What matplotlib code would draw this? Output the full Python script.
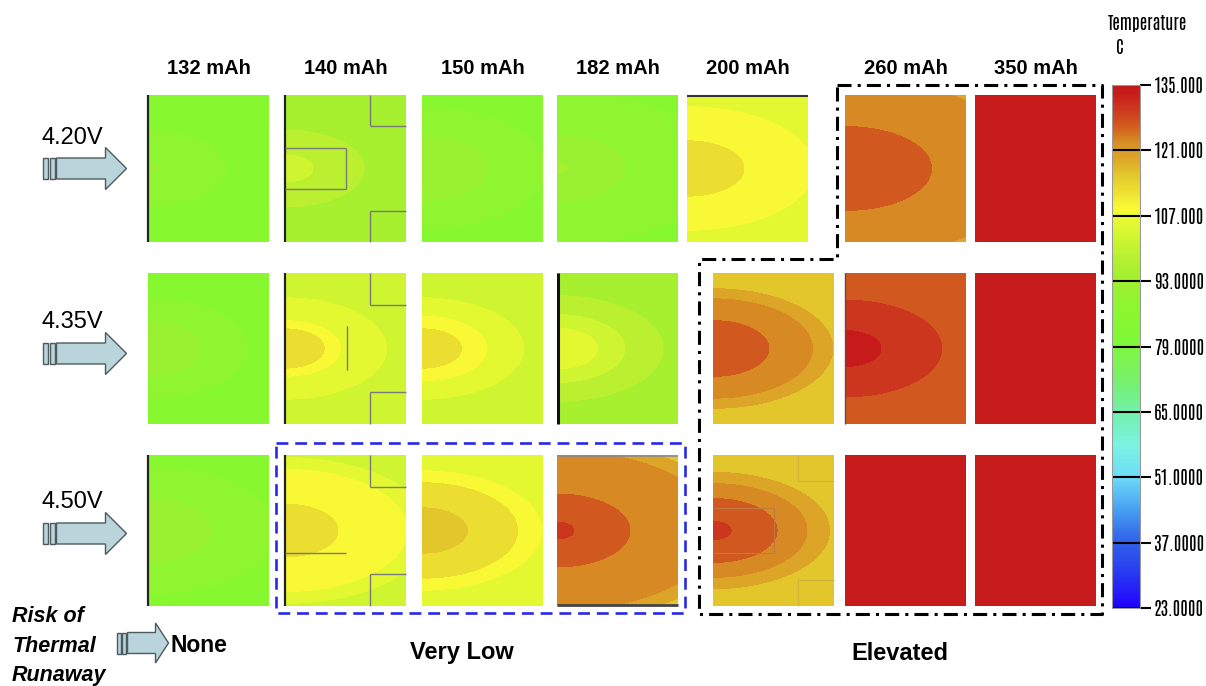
import numpy as np
import matplotlib
matplotlib.use("Agg")
import matplotlib.pyplot as plt
from matplotlib.colors import LinearSegmentedColormap, Normalize
from matplotlib.cm import ScalarMappable
from matplotlib.patches import FancyArrow, Rectangle
from matplotlib.lines import Line2D

# ---------------------------------------------------------------- data
capacities = ["132 mAh", "140 mAh", "150 mAh", "182 mAh", "200 mAh", "260 mAh", "350 mAh"]
voltages = ["4.20V", "4.35V", "4.50V"]
risk_levels = ["None", "Very Low", "Elevated"]

# normalised distance from the hot spot (middle of the tab side) at which
# each cell's temperature profile is sampled
profile_radius = [0.0, 0.25, 0.5, 0.75, 1.0, 1.3, 1.6]

# temperature profiles (deg C) per capacity, one list of cells per voltage
temps_420 = [
    [90.2, 88.0, 86.5, 85.6, 85.0, 84.5, 84.0],
    [102.5, 99.8, 97.3, 96.0, 95.0, 94.3, 93.6],
    [91.6, 90.8, 89.8, 88.0, 86.1, 85.0, 84.4],
    [93.8, 91.5, 89.8, 88.5, 87.3, 86.0, 85.2],
    [113.6, 112.0, 110.3, 108.8, 107.1, 106.5, 106.0],
    [127.6, 126.8, 125.7, 124.3, 123.2, 121.9, 120.7],
    [134.0, 134.0, 134.0, 134.0, 134.0, 134.0, 134.0],
]
temps_435 = [
    [91.5, 90.4, 89.2, 86.2, 85.5, 84.6, 84.0],
    [113.3, 112.4, 106.0, 104.0, 102.6, 101.6, 100.8],
    [112.0, 111.8, 107.5, 104.0, 102.6, 101.6, 100.8],
    [105.8, 104.9, 100.8, 97.5, 95.5, 94.8, 94.2],
    [126.5, 125.6, 124.3, 122.5, 117.3, 116.0, 115.2],
    [133.0, 131.8, 130.2, 128.3, 126.8, 125.8, 125.0],
    [134.0, 134.0, 134.0, 134.0, 134.0, 134.0, 134.0],
]
temps_450 = [
    [91.5, 90.6, 89.6, 88.0, 86.1, 85.5, 84.8],
    [113.5, 112.0, 110.0, 108.8, 107.2, 101.8, 101.5],
    [116.0, 115.0, 113.0, 111.2, 106.8, 105.8, 105.0],
    [129.5, 126.8, 125.2, 123.5, 122.3, 121.5, 115.5],
    [128.6, 127.6, 124.9, 121.5, 116.8, 115.8, 115.0],
    [134.0, 134.0, 134.0, 134.0, 134.0, 134.0, 134.0],
    [134.0, 134.0, 134.0, 134.0, 134.0, 134.0, 134.0],
]
temps_by_voltage = [temps_420, temps_435, temps_450]

temp_min, temp_max = 23.0, 135.0
band_step = 3.5
cbar_ticks = [23, 37, 51, 65, 79, 93, 107, 121, 135]

# temperature colour scale
cmap_temps = [23.0, 30.0, 37.0, 44.0, 51.0, 58.0, 65.0, 72.0, 80.75, 84.25,
              87.75, 91.25, 94.75, 98.25, 101.75, 105.25, 108.75, 112.25,
              115.75, 119.25, 122.75, 126.25, 129.75, 133.25, 135.0]
cmap_colors = ["#2000ff", "#2838f2", "#3060ea", "#48a0f0", "#6cdcfa", "#7cf2e0",
               "#72f0a8", "#78f06a", "#80f835", "#86f830", "#8ef530", "#98f030",
               "#a6f030", "#b8f030", "#ccf530", "#e2f832", "#fafa35", "#ece032",
               "#e4c82c", "#dca828", "#d88f25", "#d25c1f", "#cc3a1e", "#c81c1b",
               "#c4181b"]

# ---------------------------------------------------------------- setup
W, H = 1206, 686
fig = plt.figure(figsize=(W / 100, H / 100), dpi=100)
fig.patch.set_facecolor("white")

stops = [(t - temp_min) / (temp_max - temp_min) for t in cmap_temps]
cmap = LinearSegmentedColormap.from_list("temp", list(zip(stops, cmap_colors)))
cmap.set_over(cmap_colors[-1])
cmap.set_under(cmap_colors[0])
norm = Normalize(temp_min, temp_max)
levels = np.arange(temp_min, temp_max + band_step / 2, band_step)

narrow = ["Antonio", "DejaVu Sans"]
sans = ["Liberation Sans", "DejaVu Sans"]


def px_axes(x0, y0, x1, y1, **kw):
    return fig.add_axes([x0 / W, 1 - y1 / H, (x1 - x0) / W, (y1 - y0) / H], **kw)


# cell placement (pixel boxes)
col_left = [148, 285, 422, 557, 713, 845, 975]
cell_w = 121
row_span = [(95, 242), (273, 424), (455, 606)]

u = np.linspace(0, 1, 320)
v = np.linspace(-0.5, 0.5, 320)
U, V = np.meshgrid(u, v)
R = np.hypot(U, 2.5 * V)


def seg(ax, x0, y0, x1, y1, color="#7a7a7a", lw=1.0):
    ax.plot([x0, x1], [0.5 - y0, 0.5 - y1], color=color, lw=lw,
            solid_capstyle="butt", clip_on=False, zorder=3)


cell_axes = {}
for r, temps_row in enumerate(temps_by_voltage):
    y0, y1 = row_span[r]
    for c, prof in enumerate(temps_row):
        x0 = col_left[c]
        if r == 0 and c == 4:
            x0 = 687
        ax = px_axes(x0, y0, x0 + cell_w, y1)
        T = np.interp(R, profile_radius, prof)
        ax.contourf(U, V, T, levels=levels, cmap=cmap, norm=norm, extend="both")
        ax.set_xlim(0, 1)
        ax.set_ylim(-0.5, 0.5)
        ax.axis("off")
        cell_axes[(r, c)] = ax

# cell outlines: current-collector edge and tab regions
for key in [(0, 0), (0, 1), (1, 1), (2, 0), (2, 1)]:
    seg(cell_axes[key], 0.004, 0, 0.004, 1, color="#222222", lw=1.6)
seg(cell_axes[(1, 3)], 0.006, 0, 0.006, 1, color="#111111", lw=2.2)
seg(cell_axes[(1, 5)], 0.004, 0, 0.004, 1, color="#6a4a3a", lw=1.0)
seg(cell_axes[(0, 4)], 0, 0.004, 1, 0.004, color="#333333", lw=1.5)
seg(cell_axes[(2, 3)], 0, 0.004, 1, 0.004, color="#8a8a8a", lw=1.2)
seg(cell_axes[(2, 3)], 0, 0.994, 1, 0.994, color="#444444", lw=2.0)
for r in range(3):
    ax = cell_axes[(r, 1)]
    seg(ax, 0.70, 0, 0.70, 0.21)
    seg(ax, 0.70, 0.21, 1, 0.21)
    seg(ax, 0.70, 0.79, 0.70, 1)
    seg(ax, 0.70, 0.79, 1, 0.79)
ax = cell_axes[(0, 1)]
seg(ax, 0, 0.36, 0.5, 0.36)
seg(ax, 0.5, 0.36, 0.5, 0.64)
seg(ax, 0, 0.64, 0.5, 0.64)
seg(cell_axes[(1, 1)], 0.51, 0.35, 0.51, 0.64)
seg(cell_axes[(2, 1)], 0, 0.65, 0.5, 0.65)
ax = cell_axes[(2, 4)]
for a, b, cc, d in [(0.7, 0, 0.7, 0.17), (0.7, 0.17, 1, 0.17),
                    (0.7, 0.83, 0.7, 1), (0.7, 0.83, 1, 0.83)]:
    seg(ax, a, b, cc, d, color="#cdb43c", lw=0.8)
for a, b, cc, d in [(0, 0.35, 0.5, 0.35), (0.5, 0.35, 0.5, 0.65), (0, 0.65, 0.5, 0.65)]:
    seg(ax, a, b, cc, d, color="#c07a40", lw=0.8)

# ---------------------------------------------------------------- colour bar
cax = px_axes(1112, 85, 1140, 608)
cb = fig.colorbar(ScalarMappable(norm=norm, cmap=cmap), cax=cax, ticks=cbar_ticks)
cb.outline.set_edgecolor("#9a9a9a")
cb.outline.set_linewidth(0.8)
cb.ax.set_yticklabels([f"{t:.3f}" if t >= 100 else f"{t:.4f}" for t in cbar_ticks],
                      family=narrow, fontsize=13)
cb.ax.tick_params(direction="out", length=8, width=1.5, pad=2, colors="black")
for t in cbar_ticks:
    cb.ax.axhline(t, color="black", lw=1.5)

# ---------------------------------------------------------------- annotation layer
ov = fig.add_axes([0, 0, 1, 1], zorder=10)
ov.set_xlim(0, W)
ov.set_ylim(H, 0)
ov.axis("off")
ov.patch.set_alpha(0)

ov.text(1147, 24, "Temperature", family=narrow, fontsize=12.5, ha="center", va="center")
ov.text(1120, 47, "C", family=narrow, fontsize=12.5, ha="center", va="center")

for c, name in enumerate(capacities):
    x0 = 687 if c == 4 else col_left[c]
    ov.text(x0 + cell_w / 2, 68, name, family=sans, fontsize=14.5,
            fontweight="bold", ha="center", va="center")

arrow_face, arrow_edge = "#b9d4da", "#4d5a5e"


def block_arrow(x_tail, y, body_len, head_len, body_w, head_w, stub_w):
    s = stub_w
    for xs in (x_tail, x_tail + s + 1.5):
        ov.add_patch(Rectangle((xs, y - body_w / 2), s, body_w, facecolor=arrow_face,
                               edgecolor=arrow_edge, lw=1.0))
    xb = x_tail + 2 * s + 3.5
    ov.add_patch(FancyArrow(xb, y, body_len + head_len, 0, width=body_w,
                            head_width=head_w, head_length=head_len,
                            length_includes_head=True, facecolor=arrow_face,
                            edgecolor=arrow_edge, lw=1.0))


for r, name in enumerate(voltages):
    y0, y1 = row_span[r]
    yc = (y0 + y1) / 2 + (0, 5, 3)[r]
    ov.text(42, yc - 31, name, family=sans, fontsize=17, ha="left", va="center")
    block_arrow(43, yc, 49, 21, 21, 42, 5)

for i, line in enumerate(["Risk of", "Thermal", "Runaway"]):
    ov.text(12, 617 + 29 * i, line, family=sans, fontsize=15.5, fontweight="bold",
            fontstyle="italic", ha="left", va="center")
block_arrow(117, 643, 28, 13, 21, 40, 3.5)
ov.text(170, 645, risk_levels[0], family=sans, fontsize=16.5, fontweight="bold",
        ha="left", va="center")
ov.text(462, 653, risk_levels[1], family=sans, fontsize=17, fontweight="bold",
        ha="center", va="center")
ov.text(900, 654, risk_levels[2], family=sans, fontsize=17, fontweight="bold",
        ha="center", va="center")

# risk-group outlines
blue_box = Line2D([276, 685, 685, 276, 276], [443, 443, 613, 613, 443],
                  color="#2828e6", lw=1.9, linestyle=(0, (4.5, 2.6)))
ov.add_line(blue_box)
black_box = Line2D([837, 1102, 1102, 699, 699, 837, 837],
                   [85, 85, 614, 614, 259, 259, 85],
                   color="black", lw=2.2, linestyle=(0, (4.6, 2.0, 1.0, 2.0)))
ov.add_line(black_box)

fig.savefig("out.png", dpi=100, facecolor="white")
